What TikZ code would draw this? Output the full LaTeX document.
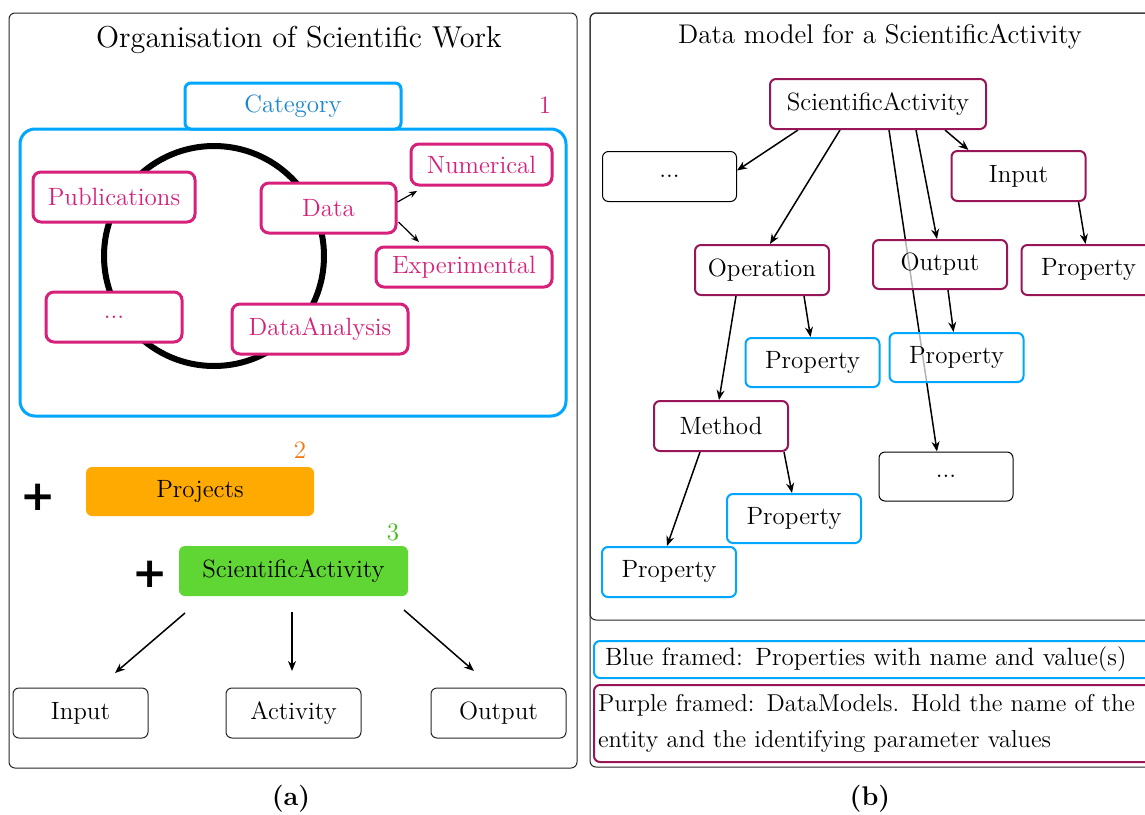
\documentclass[tikz,border=0pt]{standalone}
\usepackage{fontspec}
\newfontfamily\plusfont{DejaVu Sans}
\usetikzlibrary{arrows.meta,calc}
\definecolor{cyanb}{RGB}{0,166,255}
\definecolor{cattext}{RGB}{25,135,205}
\definecolor{magl}{RGB}{214,32,122}
\definecolor{purp}{RGB}{150,22,88}
\definecolor{orgfill}{RGB}{255,170,0}
\definecolor{orgtxt}{RGB}{240,120,20}
\definecolor{grnfill}{RGB}{96,214,52}
\definecolor{grntxt}{RGB}{60,190,20}
\pgfdeclarelayer{bg}
\pgfsetlayers{bg,main}
\tikzset{
  txt/.style={font=\fontsize{12.5}{15}\selectfont},
  frame/.style={draw=black!85,line width=0.5pt,rounded corners=3pt},
  magbox/.style={txt,draw=magl,text=magl,line width=1.5pt,rounded corners=4pt,fill=white,inner sep=0pt,minimum height=25pt},
  pbox/.style={txt,draw=purp,line width=1pt,rounded corners=3pt,fill=white,fill opacity=0.7,text opacity=1,inner sep=0pt,minimum width=67pt,minimum height=25pt},
  bbox/.style={pbox,draw=cyanb},
  kbox/.style={pbox,draw=black,line width=0.5pt},
  arr/.style={line width=0.75pt,-{Stealth[length=5pt,width=4pt]}},
  sarr/.style={line width=0.6pt,-{Stealth[length=4pt,width=3.2pt]}},
  plussign/.style={font=\plusfont\bfseries\fontsize{21}{21}\selectfont,inner sep=0pt}
}
\begin{document}
\begin{tikzpicture}[x=0.5pt,y=-0.5pt]
\useasboundingbox (0,0) rectangle (1145,814);
% ---------- left panel ----------
\draw[frame] (9,13) rectangle (577,768);
\node[font=\fontsize{14.4}{17}\selectfont] (titleA) at (299,40) {\scalebox{1.05}{Organisation of Scientific Work}};
\draw[cyanb,line width=1.5pt,rounded corners=7.5pt] (20,129) rectangle (566,416);
\node[txt,draw=cyanb,text=cattext,line width=1.5pt,rounded corners=3pt,fill=white,minimum width=108pt,minimum height=23pt,inner sep=0pt] (cat) at (293,106) {Category};
\node[txt,text=magl] (one) at (545,105) {1};
\draw[line width=3pt] (214,256) circle [radius=110];
\node[magbox,minimum width=81pt] (pub) at (114,197) {Publications};
\node[magbox,minimum width=67.5pt] (data) at (328.5,208) {Data};
\node[magbox,minimum width=70.5pt,minimum height=20.5pt] (num) at (481.5,164.5) {Numerical};
\node[magbox,minimum width=88pt,minimum height=20pt] (exp) at (464,267) {Experimental};
\node[magbox,minimum width=68pt] (dotsA) at (114,317) {...};
\node[magbox,minimum width=88pt] (da) at (320,329) {DataAnalysis};
\coordinate (numEnd) at (417,191);
\coordinate (expEnd) at (419,242);
\draw[sarr] ($(data.east)+(0,-6)$) -- (numEnd);
\draw[sarr] ($(data.east)+(1,14)$) -- (expEnd);
% projects
\node[plussign] (plusA) at (38,497) {+};
\node[txt,fill=orgfill,rounded corners=3pt,minimum width=114pt,minimum height=24.5pt,inner sep=0pt] (proj) at (200,491.5) {Projects};
\node[txt,text=orgtxt] (two) at (300,450) {2};
\node[plussign] (plusB) at (150,574) {+};
\node[txt,fill=grnfill,rounded corners=3pt,minimum width=114.5pt,minimum height=25pt,inner sep=0pt] (sa) at (293.5,571) {ScientificActivity};
\node[txt,text=grntxt] (three) at (393,532) {3};
\node[txt,draw=black!85,line width=0.5pt,rounded corners=3pt,minimum width=67.5pt,minimum height=25pt,inner sep=0pt] (inA) at (80.5,713) {Input};
\node[txt,draw=black!85,line width=0.5pt,rounded corners=3pt,minimum width=67.5pt,minimum height=25pt,inner sep=0pt] (actA) at (293.5,713) {Activity};
\node[txt,draw=black!85,line width=0.5pt,rounded corners=3pt,minimum width=67.5pt,minimum height=25pt,inner sep=0pt] (outA) at (498.5,713) {Output};
\coordinate (s1) at (185,613); \coordinate (e1) at (115,673);
\coordinate (s2) at (292,612); \coordinate (e2) at (292,671);
\coordinate (s3) at (404,610); \coordinate (e3) at (474,671);
\draw[arr] (s1) -- (e1);
\draw[arr] (s2) -- (e2);
\draw[arr] (s3) -- (e3);
\node[font=\fontsize{13.5}{16}\selectfont\bfseries] (capA) at (291,799) {(a)};
% ---------- right panel ----------
\draw[frame] (590,13) rectangle (1175,767);
\draw[frame] (590,13) rectangle (1175,620);
\node[font=\fontsize{13.5}{16}\selectfont] (titleB) at (880,37) {Data model for a ScientificActivity};
\node[pbox,minimum width=108pt] (SA) at (878,104) {ScientificActivity};
\node[kbox] (dotsB) at (669.5,176.5) {...};
\node[pbox] (inB) at (1018.5,176) {Input};
\node[pbox] (op) at (762,270) {Operation};
\node[pbox,minimum height=24.5pt] (outB) at (940,264.5) {Output};
\node[pbox] (propP) at (1088.5,270) {Property};
\node[bbox,minimum height=24.5pt] (propB1) at (812.5,362.5) {Property};
\node[bbox,minimum height=24.5pt] (propB2) at (956.5,357.5) {Property};
\node[pbox] (meth) at (721,426) {Method};
\node[kbox,minimum height=24.5pt] (dotsC) at (946,476.5) {...};
\node[bbox,minimum height=24.5pt] (propB3) at (794,518.5) {Property};
\node[bbox] (propB4) at (669,572) {Property};
\begin{pgfonlayer}{bg}
\draw[arr] ($(SA.south)+(-80,0)$) -- ($(dotsB.east)+(0,-6)$);
\draw[arr] ($(SA.south)+(-38,0)$) -- ($(op.north)+(8,0)$);
\draw[arr] ($(SA.south)+(11,0)$) -- ($(dotsC.north)+(-9,0)$);
\draw[arr] ($(SA.south)+(38,0)$) -- ($(outB.north)+(-3,0)$);
\draw[arr] ($(SA.south)+(67,0)$) -- ($(inB.north)+(-50,0)$);
\draw[arr] ($(inB.south)+(60,0)$) -- ($(propP.north)+(-3,0)$);
\draw[arr] ($(op.south)+(-26,0)$) -- ($(meth.north)+(-2,0)$);
\draw[arr] ($(op.south)+(42,0)$) -- ($(propB1.north)+(-2,0)$);
\draw[arr] ($(outB.south)+(8,0)$) -- ($(propB2.north)+(-3,0)$);
\draw[arr] ($(meth.south)+(-21,0)$) -- ($(propB4.north)+(-2,0)$);
\draw[arr] ($(meth.south)+(63,0)$) -- ($(propB3.north)+(-2,0)$);
\end{pgfonlayer}
\node[txt,draw=cyanb,line width=1pt,rounded corners=3pt,anchor=west,minimum height=18.5pt,text width=277pt,align=left,inner xsep=5.5pt,inner ysep=0pt] (legB) at (593,659.5) {Blue framed: Properties with name and value(s)};
\node[draw=purp,line width=1pt,rounded corners=3pt,anchor=west,minimum height=38.5pt,text width=295pt,align=left,inner xsep=2pt,inner ysep=0pt,font=\fontsize{12.2}{18}\selectfont] (legP) at (593,723.5) {Purple framed: DataModels. Hold the name of the\\entity and the identifying parameter values};
\node[font=\fontsize{13.5}{16}\selectfont\bfseries] (capB) at (870,799) {(b)};
\end{tikzpicture}
\end{document}
